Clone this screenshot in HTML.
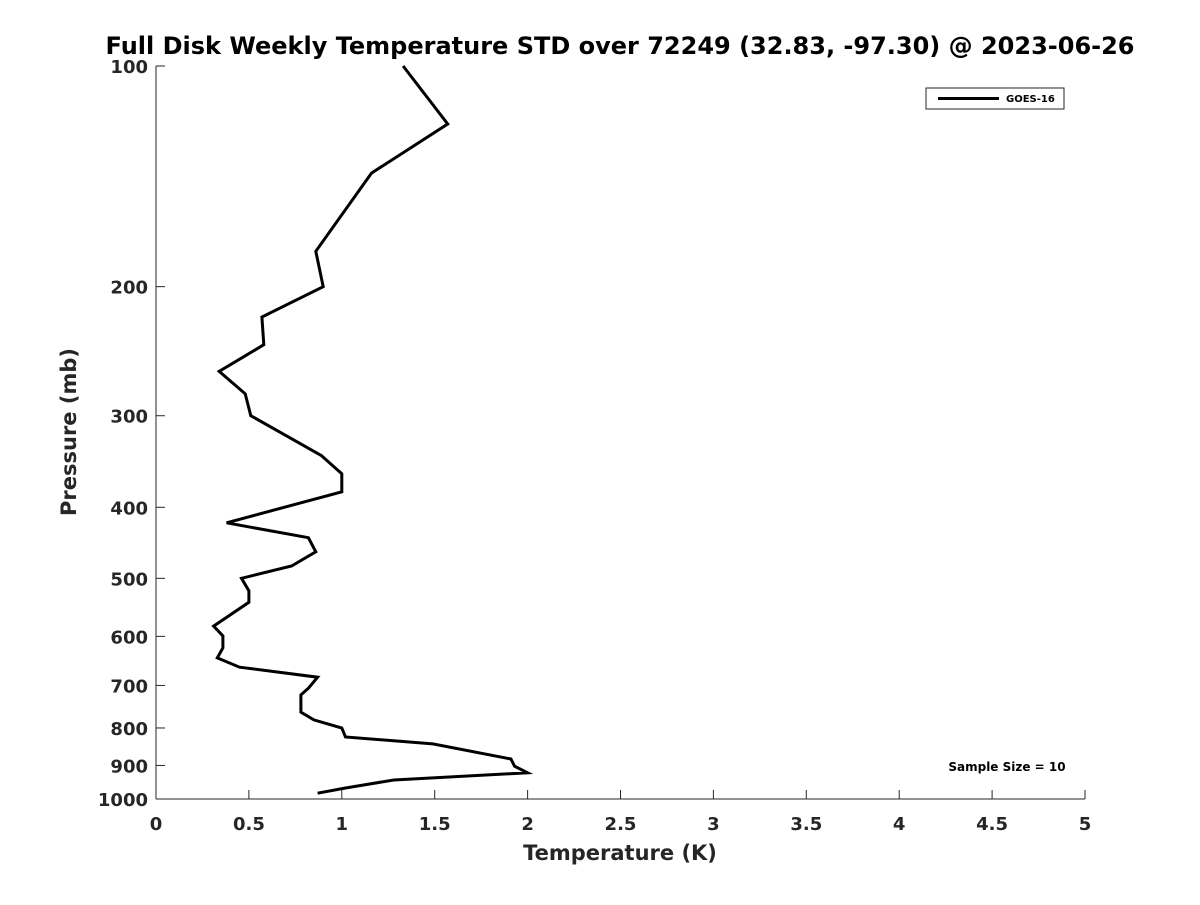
<!DOCTYPE html>
<html><head><meta charset="utf-8"><style>
body{margin:0;background:#fff}
svg{font-family:"DejaVu Sans","Liberation Sans",sans-serif;font-weight:bold}
</style></head><body>
<svg id="chart" width="1200" height="900" xmlns="http://www.w3.org/2000/svg">
<rect width="1200" height="900" fill="#fff"/>
<text x="620" y="54" text-anchor="middle" font-size="24" fill="#000">Full Disk Weekly Temperature STD over 72249 (32.83, -97.30) @ 2023-06-26</text>
<g id="axes"></g>
<text x="620" y="860" text-anchor="middle" font-size="21" fill="#262626">Temperature (K)</text>
<text transform="translate(76,432) rotate(-90)" text-anchor="middle" font-size="21" fill="#262626">Pressure (mb)</text>
<g>
<rect x="926" y="88" width="138" height="21" fill="#fff" stroke="#262626" stroke-width="1"/>
<line x1="938" y1="98.5" x2="999" y2="98.5" stroke="#000" stroke-width="3"/>
<text x="1006" y="102" font-size="10" fill="#000">GOES-16</text>
</g>
<text x="1007" y="771" text-anchor="middle" font-size="12" fill="#000">Sample Size = 10</text>
</svg>
<script>
const temps=[1.33,1.57,1.16,0.86,0.90,0.57,0.58,0.34,0.48,0.51,0.89,1.0,1.0,0.38,0.82,0.86,0.73,0.46,0.50,0.50,0.31,0.36,0.36,0.33,0.45,0.87,0.82,0.78,0.78,0.85,1.0,1.02,1.49,1.91,1.93,2.0,1.28,1.02,0.87];
const pressures=[100,120,140,179,200,220,240,261,280,300,340,360,381,420,440,460,481,500,520,539,581,599,622,642,661,682,706,721,761,780,800,823,841,882,902,921,942,966,982];
const xTicks=[0,0.5,1,1.5,2,2.5,3,3.5,4,4.5,5];
const xTickLabels=["0","0.5","1","1.5","2","2.5","3","3.5","4","4.5","5"];
const yTicks=[100,200,300,400,500,600,700,800,900,1000];
const yTickLabels=["100","200","300","400","500","600","700","800","900","1000"];
const X0=156,X1=1085,Y0=66,Y1=799;
const xs=v=>X0+(v-0)/(5-0)*(X1-X0);
const ys=p=>Y0+(Math.log10(p)-2)*(Y1-Y0);
const NS="http://www.w3.org/2000/svg";
const svg=document.getElementById('chart');
const ax=document.getElementById('axes');
function mk(t,a,parent){const e=document.createElementNS(NS,t);for(const k in a)e.setAttribute(k,a[k]);(parent||ax).appendChild(e);return e;}
const xa=mk('line',{x1:X0,y1:Y1,x2:X1,y2:Y1,stroke:'#262626','stroke-width':1});


const ya=mk('line',{x1:X0,y1:Y0,x2:X0,y2:Y1,stroke:'#262626','stroke-width':1});


xTicks.forEach((v,i)=>{const x=xs(v);
mk('line',{x1:x,y1:Y1,x2:x,y2:Y1-9,stroke:'#262626'});
const t=mk('text',{x:x,y:Y1+31,'text-anchor':'middle','font-size':18,fill:'#262626'});t.textContent=xTickLabels[i];

});
yTicks.forEach((p,i)=>{const y=ys(p);
mk('line',{x1:X0,y1:y,x2:X0+9,y2:y,stroke:'#262626'});
const t=mk('text',{x:X0-8,y:y+7,'text-anchor':'end','font-size':18,fill:'#262626'});t.textContent=yTickLabels[i];

});
const pts=temps.map((t,i)=>xs(t).toFixed(1)+','+ys(pressures[i]).toFixed(1)).join(' ');
const line=mk('polyline',{points:pts,fill:'none',stroke:'#000','stroke-width':3,'stroke-linejoin':'miter'},svg);


</script>
</body></html>
